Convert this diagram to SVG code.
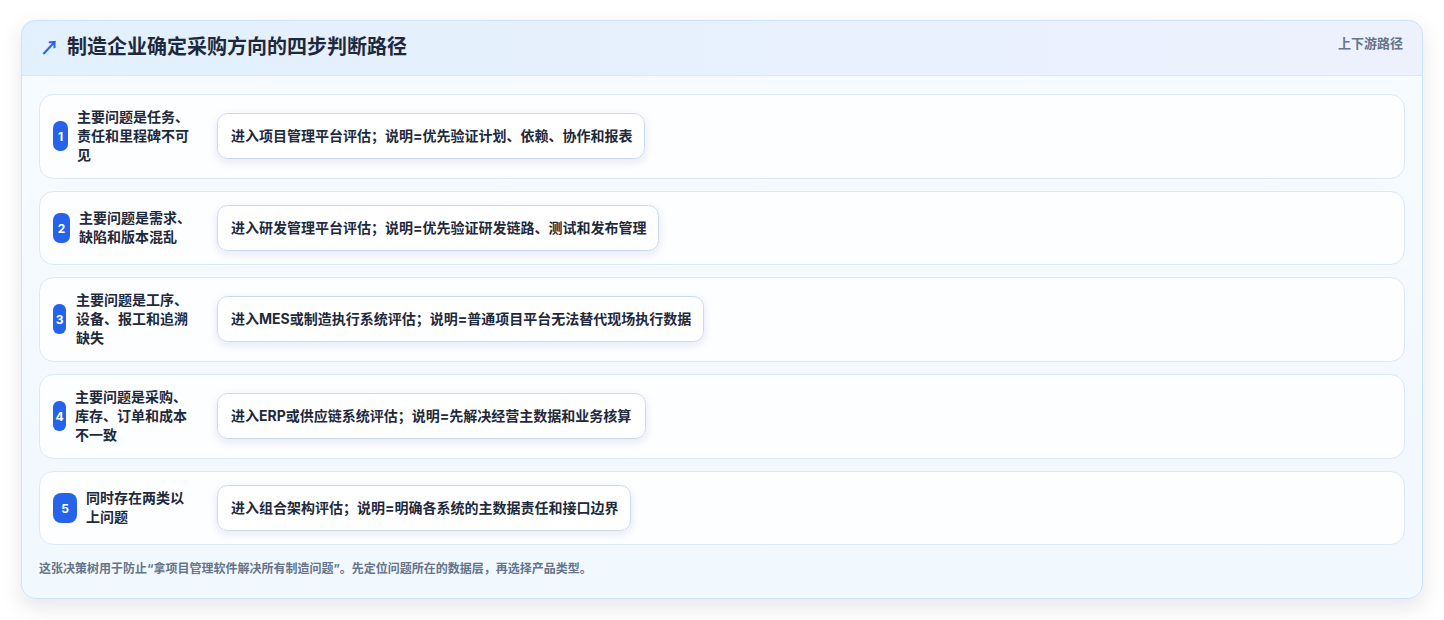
<svg xmlns="http://www.w3.org/2000/svg" width="1444" height="620" viewBox="0 0 1444 620">
<defs>
<linearGradient id="hdr" x1="0" y1="0" x2="1" y2="0"><stop offset="0" stop-color="#e2f0fd"/><stop offset="1" stop-color="#edf1fd"/></linearGradient>
<linearGradient id="body" x1="0" y1="0" x2="0" y2="1"><stop offset="0" stop-color="#f6fbff"/><stop offset="1" stop-color="#f1f8fe"/></linearGradient>
<filter id="cardShadow" x="-5%" y="-5%" width="110%" height="120%"><feDropShadow dx="0" dy="8" stdDeviation="10" flood-color="#0f172a" flood-opacity="0.10"/></filter>
<filter id="boxShadow" x="-5%" y="-20%" width="110%" height="160%"><feDropShadow dx="0" dy="3" stdDeviation="4" flood-color="#1e3a8a" flood-opacity="0.10"/></filter>
<clipPath id="cardClip"><rect x="21" y="20" width="1402" height="579" rx="14"/></clipPath>
</defs>
<style>
text{font-family:Inter,"Noto Sans CJK SC","Liberation Sans",sans-serif}
.row{fill:#fdfeff;stroke:#dbe8f6;stroke-width:1}
.act{fill:#ffffff;stroke:#c9daf0;stroke-width:1}
.badge{fill:#2563eb}
.num{fill:#ffffff;font-size:12px;font-weight:700;text-anchor:middle}
.q{fill:#1e293b;font-size:14px;font-weight:700}
.at{fill:#1e293b;font-size:14px;font-weight:700}
.arrow{font-family:"Noto Sans CJK SC","DejaVu Sans",sans-serif}
</style>
<rect width="1444" height="620" fill="#ffffff"/>
<g id="card">
<rect x="21" y="20" width="1402" height="579" rx="14" fill="url(#body)" filter="url(#cardShadow)"/>
<g clip-path="url(#cardClip)">
<rect x="21" y="20" width="1402" height="55" fill="url(#hdr)"/>
<line x1="21" y1="75.5" x2="1423" y2="75.5" stroke="#d8e8f8" stroke-width="1"/>
</g>
<rect x="21.5" y="20.5" width="1401" height="578" rx="14" fill="none" stroke="#cde3f4" stroke-width="1"/>
<text class="arrow" x="40" y="55" fill="#2563eb" font-size="19" font-weight="700">↗</text>
<text x="67" y="54" fill="#1e293b" font-size="20" font-weight="700">制造企业确定采购方向的四步判断路径</text>
<text x="1403" y="48" fill="#64748b" font-size="13" font-weight="700" text-anchor="end">上下游路径</text>
</g>
<g id="node1">
<rect class="row" x="39.5" y="94.5" width="1365" height="84" rx="14"/>
<rect class="badge" x="53" y="121" width="15" height="30" rx="7"/>
<text class="num" x="60.5" y="140.5">1</text>
<text class="q" x="77" y="122">主要问题是任务、</text>
<text class="q" x="77" y="141">责任和里程碑不可</text>
<text class="q" x="77" y="160">见</text>
<rect class="act" x="217.5" y="113.5" width="427" height="45" rx="10" filter="url(#boxShadow)"/>
<text class="at" x="231" y="141">进入项目管理平台评估；说明=优先验证计划、依赖、协作和报表</text>
</g>
<g id="node2">
<rect class="row" x="39.5" y="191.5" width="1365" height="73" rx="14"/>
<rect class="badge" x="53" y="213" width="17" height="30" rx="7"/>
<text class="num" x="61.5" y="232.5">2</text>
<text class="q" x="79" y="223">主要问题是需求、</text>
<text class="q" x="79" y="242">缺陷和版本混乱</text>
<rect class="act" x="217.5" y="205.5" width="441" height="45" rx="10" filter="url(#boxShadow)"/>
<text class="at" x="231" y="233">进入研发管理平台评估；说明=优先验证研发链路、测试和发布管理</text>
</g>
<g id="node3">
<rect class="row" x="39.5" y="277.5" width="1365" height="84" rx="14"/>
<rect class="badge" x="53" y="304" width="13" height="30" rx="6"/>
<text class="num" x="59.5" y="323.5">3</text>
<text class="q" x="76" y="305">主要问题是工序、</text>
<text class="q" x="76" y="324">设备、报工和追溯</text>
<text class="q" x="76" y="343">缺失</text>
<rect class="act" x="217.5" y="296.5" width="486" height="45" rx="10" filter="url(#boxShadow)"/>
<text class="at" x="231" y="324">进入MES或制造执行系统评估；说明=普通项目平台无法替代现场执行数据</text>
</g>
<g id="node4">
<rect class="row" x="39.5" y="374.5" width="1365" height="84" rx="14"/>
<rect class="badge" x="53" y="401" width="13" height="30" rx="6"/>
<text class="num" x="59.5" y="420.5">4</text>
<text class="q" x="75" y="402">主要问题是采购、</text>
<text class="q" x="75" y="421">库存、订单和成本</text>
<text class="q" x="75" y="440">不一致</text>
<rect class="act" x="217.5" y="393.5" width="428" height="45" rx="10" filter="url(#boxShadow)"/>
<text class="at" x="231" y="421">进入ERP或供应链系统评估；说明=先解决经营主数据和业务核算</text>
</g>
<g id="node5">
<rect class="row" x="39.5" y="471.5" width="1365" height="73" rx="14"/>
<rect class="badge" x="53" y="493" width="24" height="30" rx="8"/>
<text class="num" x="65" y="512.5">5</text>
<text class="q" x="86" y="503">同时存在两类以</text>
<text class="q" x="86" y="522">上问题</text>
<rect class="act" x="217.5" y="485.5" width="413" height="45" rx="10" filter="url(#boxShadow)"/>
<text class="at" x="231" y="513">进入组合架构评估；说明=明确各系统的主数据责任和接口边界</text>
</g>
<g id="connectors"/>
<text x="39" y="573" fill="#64748b" font-size="12" font-weight="700">这张决策树用于防止“拿项目管理软件解决所有制造问题”。先定位问题所在的数据层，再选择产品类型。</text>
</svg>
